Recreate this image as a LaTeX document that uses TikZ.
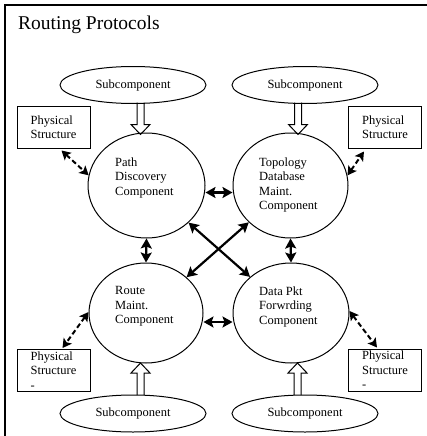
\documentclass[tikz,border=0pt]{standalone}
\usepackage{fontspec}
\setmainfont{Liberation Serif}
\usetikzlibrary{arrows.meta,shapes.geometric,calc}
\begin{document}
\begin{tikzpicture}[x=1pt,y=-1pt,
  txt/.style={font=\fontsize{12.5}{14.5}\selectfont},
  sub/.style={draw,ellipse,line width=1pt,minimum width=146pt,minimum height=37pt,inner sep=0pt,txt},
  comp/.style={draw,ellipse,line width=1pt,inner sep=0pt},
  ctext/.style={txt,anchor=west,align=left,inner sep=0pt},
  phys/.style={draw,rectangle,line width=1pt,minimum width=73pt,minimum height=42pt,inner sep=0pt,txt,align=left},
  dbl/.style={line width=2.2pt,{Stealth[length=10pt,width=11pt,inset=2pt]}-{Stealth[length=10pt,width=11pt,inset=2pt]}},
  dashdbl/.style={line width=2pt,dash pattern=on 5pt off 3pt,{Stealth[length=9pt,width=10pt,inset=2pt]}-{Stealth[length=9pt,width=10pt,inset=2pt]}},
  hollow/.style={line width=1pt}
]
\useasboundingbox (0,0) rectangle (427,436);
% frame (top and left only)
\draw[line width=1.3pt] (5,436) -- (5,5) -- (427,5);
\node[anchor=base west,inner sep=0pt,font=\fontsize{19.5}{22}\selectfont] (title) at (18,30) {Routing Protocols};

% subcomponents
\node[sub] (e1) at (133,85) {Subcomponent};
\node[sub] (e2) at (305,85) {Subcomponent};
\node[sub] (e3) at (133,413.5) {Subcomponent};
\node[sub] (e4) at (305,413.5) {Subcomponent};

% components
\node[comp,minimum width=117pt,minimum height=105pt] (c1) at (146.5,185.5) {};
\node[comp,minimum width=115pt,minimum height=105pt] (c2) at (290.5,185.5) {};
\node[comp,minimum width=114pt,minimum height=100pt] (c3) at (146,313) {};
\node[comp,minimum width=116pt,minimum height=100pt] (c4) at (291,313) {};

\node[ctext] (t1) at (115,177.5) {Path\\Discovery\\Component};
\node[ctext] (t2) at (259,185) {Topology\\Database\\Maint.\\Component};
\node[ctext] (t3) at (115,306.5) {Route\\Maint.\\Component};
\node[ctext] (t4) at (259,306.5) {Data Pkt\\Forwrding\\Component};

% physical structures
\node[phys] (b1) at (53.5,127) {Physical\\Structure};
\node[phys] (b2) at (385,127) {Physical\\Structure};
\node[phys] (b3) at (53.5,370.5) {Physical\\Structure\\-};
\node[phys] (b4) at (385,370) {Physical\\Structure\\-};

% hollow arrows
\coordinate (h1a) at (140.5,102.5); \coordinate (h1b) at (140.5,134.5);
\coordinate (h2a) at (298,102.5);   \coordinate (h2b) at (298,134.5);
\coordinate (h3a) at (140.5,395);   \coordinate (h3b) at (140.5,363);
\coordinate (h4a) at (297.5,395);   \coordinate (h4b) at (297.5,363);
\foreach \a/\b in {h1a/h1b,h2a/h2b}{
  \draw[hollow] let \p1=(\a), \p2=(\b) in
    (\x1-3.5pt,\y1) -- (\x1-3.5pt,\y2+10pt) -- (\x1-9.5pt,\y2+10pt) -- (\x1,\y2)
    -- (\x1+9.5pt,\y2+10pt) -- (\x1+3.5pt,\y2+10pt) -- (\x1+3.5pt,\y1);
}
\foreach \a/\b in {h3a/h3b,h4a/h4b}{
  \draw[hollow] let \p1=(\a), \p2=(\b) in
    (\x1-3.5pt,\y1) -- (\x1-3.5pt,\y2-10pt) -- (\x1-9.5pt,\y2-10pt) -- (\x1,\y2)
    -- (\x1+9.5pt,\y2-10pt) -- (\x1+3.5pt,\y2-10pt) -- (\x1+3.5pt,\y1);
}

% solid double arrows
\draw[dbl] ([yshift=-7pt]c1.east) -- ([yshift=-7pt]c2.west);
\draw[dbl] ([yshift=-9pt]c3.east) -- ([yshift=-9pt]c4.west);
\draw[dbl] (c1.south) -- (c3.north);
\draw[dbl] (c2.south) -- (c4.north);
\draw[dbl] (c1) -- (c4);
\draw[dbl] (c3) -- (c2);

% dashed double arrows
\draw[dashdbl] ([xshift=8pt,yshift=-2pt]b1.south) -- (c1.170);
\draw[dashdbl] (c2.10) -- ([xshift=-21pt,yshift=-3pt]b2.south);
\draw[dashdbl] (c3.179) -- ([xshift=9pt,yshift=1pt]b3.north);
\draw[dashdbl] (c4.2) -- ([xshift=-8pt,yshift=1pt]b4.north);
\end{tikzpicture}
\end{document}
